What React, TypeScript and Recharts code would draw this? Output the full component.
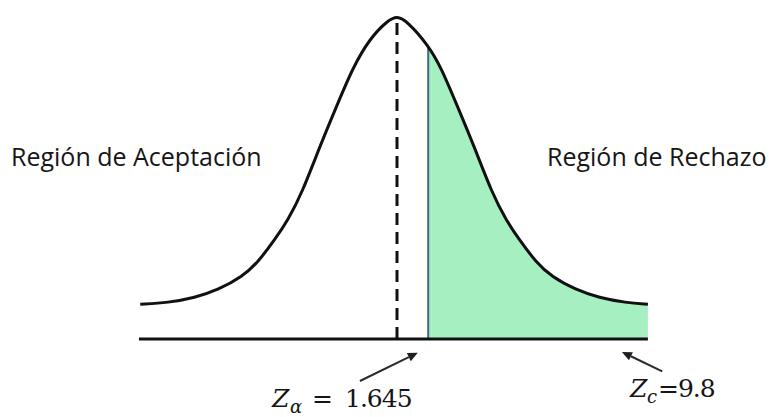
import React from "react";
import { Area, ComposedChart, Customized, Line, ReferenceLine, XAxis, YAxis } from "recharts";

// curve (z units, density units)
const curveZ = [
  -3.95, -3.52, -3.11, -2.75, -2.38, -2.14, -1.88, -1.68, -1.46, -1.18, -0.92, -0.68, -0.42, -0.15, 0,
  0.15, 0.48, 0.68, 0.92, 1.18, 1.46, 1.68, 1.88, 2.14, 2.38, 2.75, 3.11, 3.52, 3.86
];
const curveDensity = [
  0.043, 0.045, 0.051, 0.061, 0.077, 0.095, 0.123, 0.147, 0.181, 0.24, 0.29, 0.336, 0.372, 0.394, 0.4,
  0.394, 0.364, 0.336, 0.29, 0.24, 0.181, 0.147, 0.123, 0.095, 0.077, 0.061, 0.051, 0.045, 0.043
];

const rejectionStart = 0.48;
const rejectionTop = 0.362;
const peak = 0.398;
const axisEnds = [-3.97, 3.86];

// annotation arrows: [tailZ, tailY, headZ, headY]
const alphaArrow = [-0.57, -0.052, 0.32, -0.017];
const criticalArrow = [4.08, -0.04, 3.46, -0.016];

const data = curveZ.map((z, i) => ({
  z,
  density: curveDensity[i],
  tail: z >= rejectionStart ? curveDensity[i] : null
}));

const Arrow = (props: any) => {
  const { x1, y1, x2, y2 } = props;
  const ang = Math.atan2(y2 - y1, x2 - x1);
  const len = 10;
  const w = 4.5;
  const bx = x2 - len * Math.cos(ang);
  const by = y2 - len * Math.sin(ang);
  const px = -Math.sin(ang) * w;
  const py = Math.cos(ang) * w;
  return (
    <g>
      <line x1={x1} y1={y1} x2={bx} y2={by} stroke="#2b2b2b" strokeWidth={2} />
      <polygon points={`${x2},${y2} ${bx + px},${by + py} ${bx - px},${by - py}`} fill="#1e1e1e" />
    </g>
  );
};

const Labels = () => (
  <g>
    <text x={11} y={166} fontFamily="Open Sans" fontSize={25} fill="#161616">
      Región de Aceptación
    </text>
    <text x={547} y={166} fontFamily="Open Sans" fontSize={25} fill="#161616">
      Región de Rechazo
    </text>
    <text y={407} fontFamily="DejaVu Serif" fontSize={25} fill="#151515">
      <tspan x={272} fontStyle="italic">Z</tspan>
      <tspan x={290} dy={6} fontStyle="italic" fontSize={18}>α</tspan>
      <tspan x={312} dy={-6}>=</tspan>
      <tspan x={345} letterSpacing={-1}>1.645</tspan>
    </text>
    <text y={397} fontFamily="DejaVu Serif" fontSize={25} fill="#151515">
      <tspan x={630} fontStyle="italic">Z</tspan>
      <tspan x={647} dy={6} fontStyle="italic" fontSize={18}>c</tspan>
      <tspan x={658} dy={-6} letterSpacing={-1}>=9.8</tspan>
    </text>
  </g>
);

export default function App() {
  return (
    <div style={{ position: "fixed", left: 0, top: 0, width: 774, height: 417, background: "#fff" }}>
      <ComposedChart width={774} height={417} data={data} margin={{ top: 7.925, right: 117, bottom: 5.325, left: 137 }}>
        <XAxis type="number" dataKey="z" domain={[-4, 4]} hide height={0} allowDataOverflow />
        <YAxis type="number" domain={[-0.09, 0.41]} hide width={0} allowDataOverflow />
        <Area
          dataKey="tail"
          type="basis"
          baseValue={0}
          fill="#a6efc1"
          fillOpacity={1}
          stroke="none"
          isAnimationActive={false}
        />
        <ReferenceLine
          segment={[{ x: rejectionStart, y: 0 }, { x: rejectionStart, y: rejectionTop }]}
          stroke="#3c6a84"
          strokeWidth={2}
          ifOverflow="visible"
        />
        <ReferenceLine
          segment={[{ x: 0, y: 0 }, { x: 0, y: peak }]}
          stroke="#111"
          strokeWidth={3}
          strokeDasharray="12 7"
          ifOverflow="visible"
        />
        <Line dataKey="density" type="basis" stroke="#111" strokeWidth={3} dot={false} isAnimationActive={false} />
        <ReferenceLine
          segment={[{ x: axisEnds[0], y: 0 }, { x: axisEnds[1], y: 0 }]}
          stroke="#111"
          strokeWidth={3}
          ifOverflow="visible"
        />
        <ReferenceLine
          segment={[{ x: alphaArrow[0], y: alphaArrow[1] }, { x: alphaArrow[2], y: alphaArrow[3] }]}
          shape={Arrow}
          ifOverflow="visible"
        />
        <ReferenceLine
          segment={[{ x: criticalArrow[0], y: criticalArrow[1] }, { x: criticalArrow[2], y: criticalArrow[3] }]}
          shape={Arrow}
          ifOverflow="visible"
        />
        <Customized component={Labels} />
      </ComposedChart>
    </div>
  );
}
